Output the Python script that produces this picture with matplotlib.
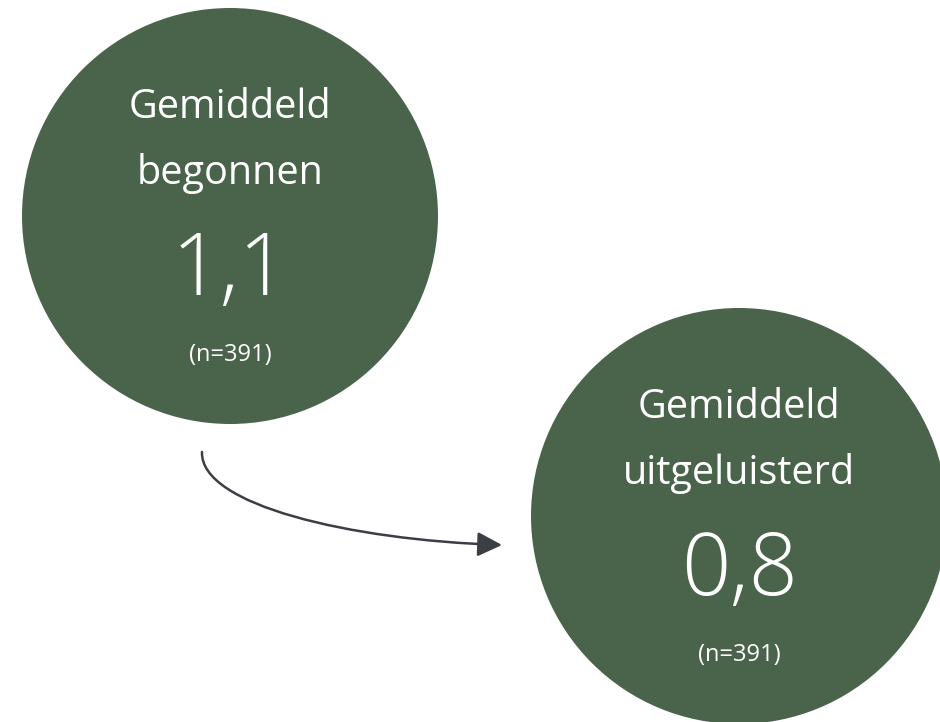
import matplotlib
matplotlib.use("Agg")
import matplotlib.pyplot as plt
from matplotlib.patches import Circle, FancyArrowPatch
from matplotlib.path import Path

labels_top = ["Gemiddeld", "Gemiddeld"]
labels_bottom = ["begonnen", "uitgeluisterd"]
values = ["1,1", "0,8"]
n_values = [391, 391]

plt.rcParams['font.family'] = ['Open Sans', 'DejaVu Sans']

fig = plt.figure(figsize=(9.4, 7.22), dpi=100)
ax = fig.add_axes([0, 0, 1, 1])
ax.set_xlim(0, 940)
ax.set_ylim(722, 0)
ax.set_aspect('equal')
ax.axis('off')

green = '#4a634b'
centers = [(230, 216), (739, 516)]
radius = 208

for (cx, cy), top, bot, val, n in zip(centers, labels_top, labels_bottom, values, n_values):
    ax.add_patch(Circle((cx, cy), radius, facecolor=green, edgecolor='none'))
    ax.text(cx, cy - 108, top, color='white', fontsize=28.5, ha='center', va='center', fontweight='normal')
    ax.text(cx, cy - 43, bot, color='white', fontsize=28.5, ha='center', va='center', fontweight='normal')
    ax.text(cx, cy + 56, val, color='white', fontsize=62, ha='center', va='center', fontweight='light')
    ax.text(cx, cy + 139, f"(n={n})", color='white', fontsize=17, ha='center', va='center', fontweight='normal')

verts = [(202, 452), (200, 505), (350, 540), (502, 545)]
codes = [Path.MOVETO, Path.CURVE4, Path.CURVE4, Path.CURVE4]
arrow = FancyArrowPatch(path=Path(verts, codes), arrowstyle='-|>,head_length=10,head_width=5',
                        color='#3b3e44', lw=1.8, mutation_scale=1.5)
ax.add_patch(arrow)

fig.savefig('out.png', dpi=100, facecolor='white')
